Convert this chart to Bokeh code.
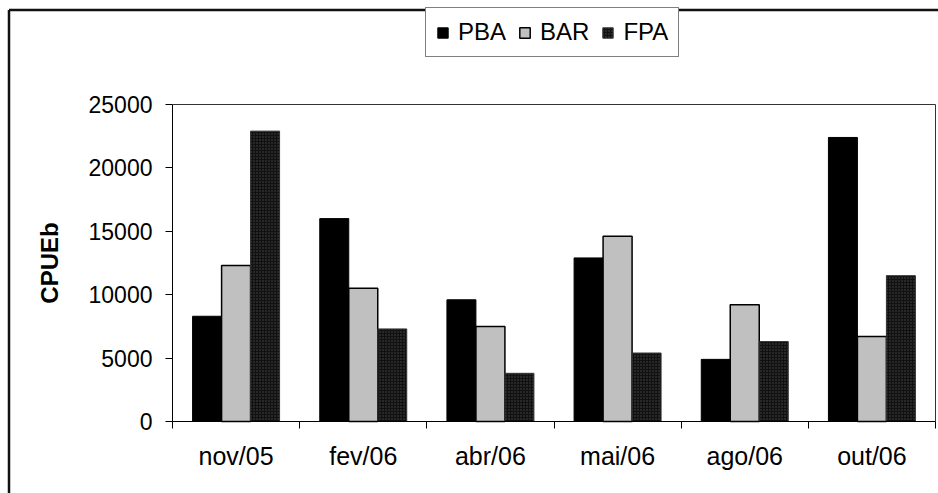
from bokeh.plotting import figure
from bokeh.models import Range1d, FixedTicker, Legend, LegendItem, ColumnDataSource
from bokeh.transform import dodge
from bokeh.embed import file_html
from bokeh.resources import INLINE

# CPUEb per sampling campaign and fishing area
months = ["nov/05", "fev/06", "abr/06", "mai/06", "ago/06", "out/06"]
pba = [8300, 16000, 9600, 12900, 4900, 22400]
bar = [12300, 10500, 7500, 14600, 9200, 6700]
fpa = [22900, 7300, 3800, 5400, 6300, 11500]
y_ticks = [0, 5000, 10000, 15000, 20000, 25000]

FONT = "Liberation Sans"
BAR_W = 0.228
W, H = 938, 493

# plot-area box inside the canvas (pixels)
PA_LEFT, PA_RIGHT, PA_TOP, PA_BOTTOM = 172, 935, 104, 421

n = len(months)
y_max = y_ticks[-1]
px_x = (PA_RIGHT - PA_LEFT) / n
px_y = (PA_BOTTOM - PA_TOP) / y_max
x_range = Range1d(-PA_LEFT / px_x, n + (W - PA_RIGHT) / px_x)
y_range = Range1d(-(H - PA_BOTTOM) / px_y, y_max + PA_TOP / px_y)


def cx(px):
    """canvas x pixel -> data x"""
    return x_range.start + px / px_x


def cy(py):
    """canvas y pixel (from top) -> data y"""
    return y_range.end - py / px_y


centers = [i + 0.5 for i in range(n)]
source = ColumnDataSource(dict(x=centers, pba=pba, bar=bar, fpa=fpa))

p = figure(width=W, height=H, output_backend="svg", toolbar_location=None,
           title=None, x_range=x_range, y_range=y_range,
           min_border_left=0, min_border_right=0,
           min_border_top=0, min_border_bottom=0)
p.background_fill_color = "white"
p.border_fill_color = "white"
p.outline_line_color = None
p.xgrid.visible = False
p.ygrid.visible = False

# chart border: only the left and top edges fall inside the canvas
p.segment(x0=[cx(8.5), cx(8.5)], y0=[cy(9.5), cy(9.5)],
          x1=[cx(W + 20), cx(8.5)], y1=[cy(9.5), cy(H + 20)],
          line_color="#111111", line_width=2.5)

r_pba = p.vbar(x=dodge("x", -BAR_W), top="pba", width=BAR_W, source=source,
               fill_color="black", line_color="black", line_width=1)
r_bar = p.vbar(x="x", top="bar", width=BAR_W, source=source,
               fill_color="#C0C0C0", line_color="black", line_width=1.5)
r_fpa = p.vbar(x=dodge("x", BAR_W), top="fpa", width=BAR_W, source=source,
               fill_color="#111111", line_color="#333333", line_width=1,
               hatch_pattern="dot", hatch_color="#4a4a4a", hatch_scale=3,
               hatch_weight=1)

# plot-area frame: top edge at the axis maximum, right edge after the last group
p.segment(x0=[0, n], y0=[y_max, 0], x1=[n, n], y1=[y_max, y_max],
          line_color="#333333", line_width=1)

# value axis
yax = p.yaxis[0]
yax.fixed_location = 0
yax.bounds = (0, y_max)
yax.ticker = FixedTicker(ticks=y_ticks, minor_ticks=[])
yax.major_label_overrides = {t: str(t) for t in y_ticks}
yax.major_tick_out = 7
yax.major_tick_in = 0
yax.minor_tick_out = 0
yax.minor_tick_in = 0
yax.axis_line_color = "black"
yax.major_tick_line_color = "black"
yax.major_label_standoff = 13
yax.major_label_text_font = FONT
yax.major_label_text_font_size = "23px"
yax.major_label_text_color = "black"
yax.axis_label = "CPUEb"
yax.axis_label_text_font = FONT
yax.axis_label_text_font_style = "bold"
yax.axis_label_text_font_size = "24px"
yax.axis_label_text_color = "black"
yax.axis_label_standoff = 23

# month axis: labels at group centres, tick marks on group boundaries
xax = p.xaxis[0]
xax.fixed_location = 0
xax.bounds = (0, n)
xax.ticker = FixedTicker(ticks=centers, minor_ticks=list(range(n + 1)))
xax.major_label_overrides = {c: m for c, m in zip(centers, months)}
xax.major_tick_line_color = None
xax.minor_tick_line_color = "black"
xax.minor_tick_out = 7
xax.minor_tick_in = 0
xax.axis_line_color = "black"
xax.major_label_standoff = 13
xax.major_label_text_font = FONT
xax.major_label_text_font_size = "25px"
xax.major_label_text_color = "black"

legend = Legend(items=[LegendItem(label="PBA", renderers=[r_pba]),
                       LegendItem(label="BAR", renderers=[r_bar]),
                       LegendItem(label="FPA", renderers=[r_fpa])],
                orientation="horizontal", location=(425, H - 57),
                glyph_width=13, glyph_height=13, label_standoff=9, spacing=12,
                padding=10, margin=0,
                label_text_font=FONT, label_text_font_size="24px",
                label_text_color="black",
                border_line_color="black", border_line_width=1,
                background_fill_color="white", background_fill_alpha=1)
p.add_layout(legend)

open("out.html", "w").write(file_html(p, INLINE))
